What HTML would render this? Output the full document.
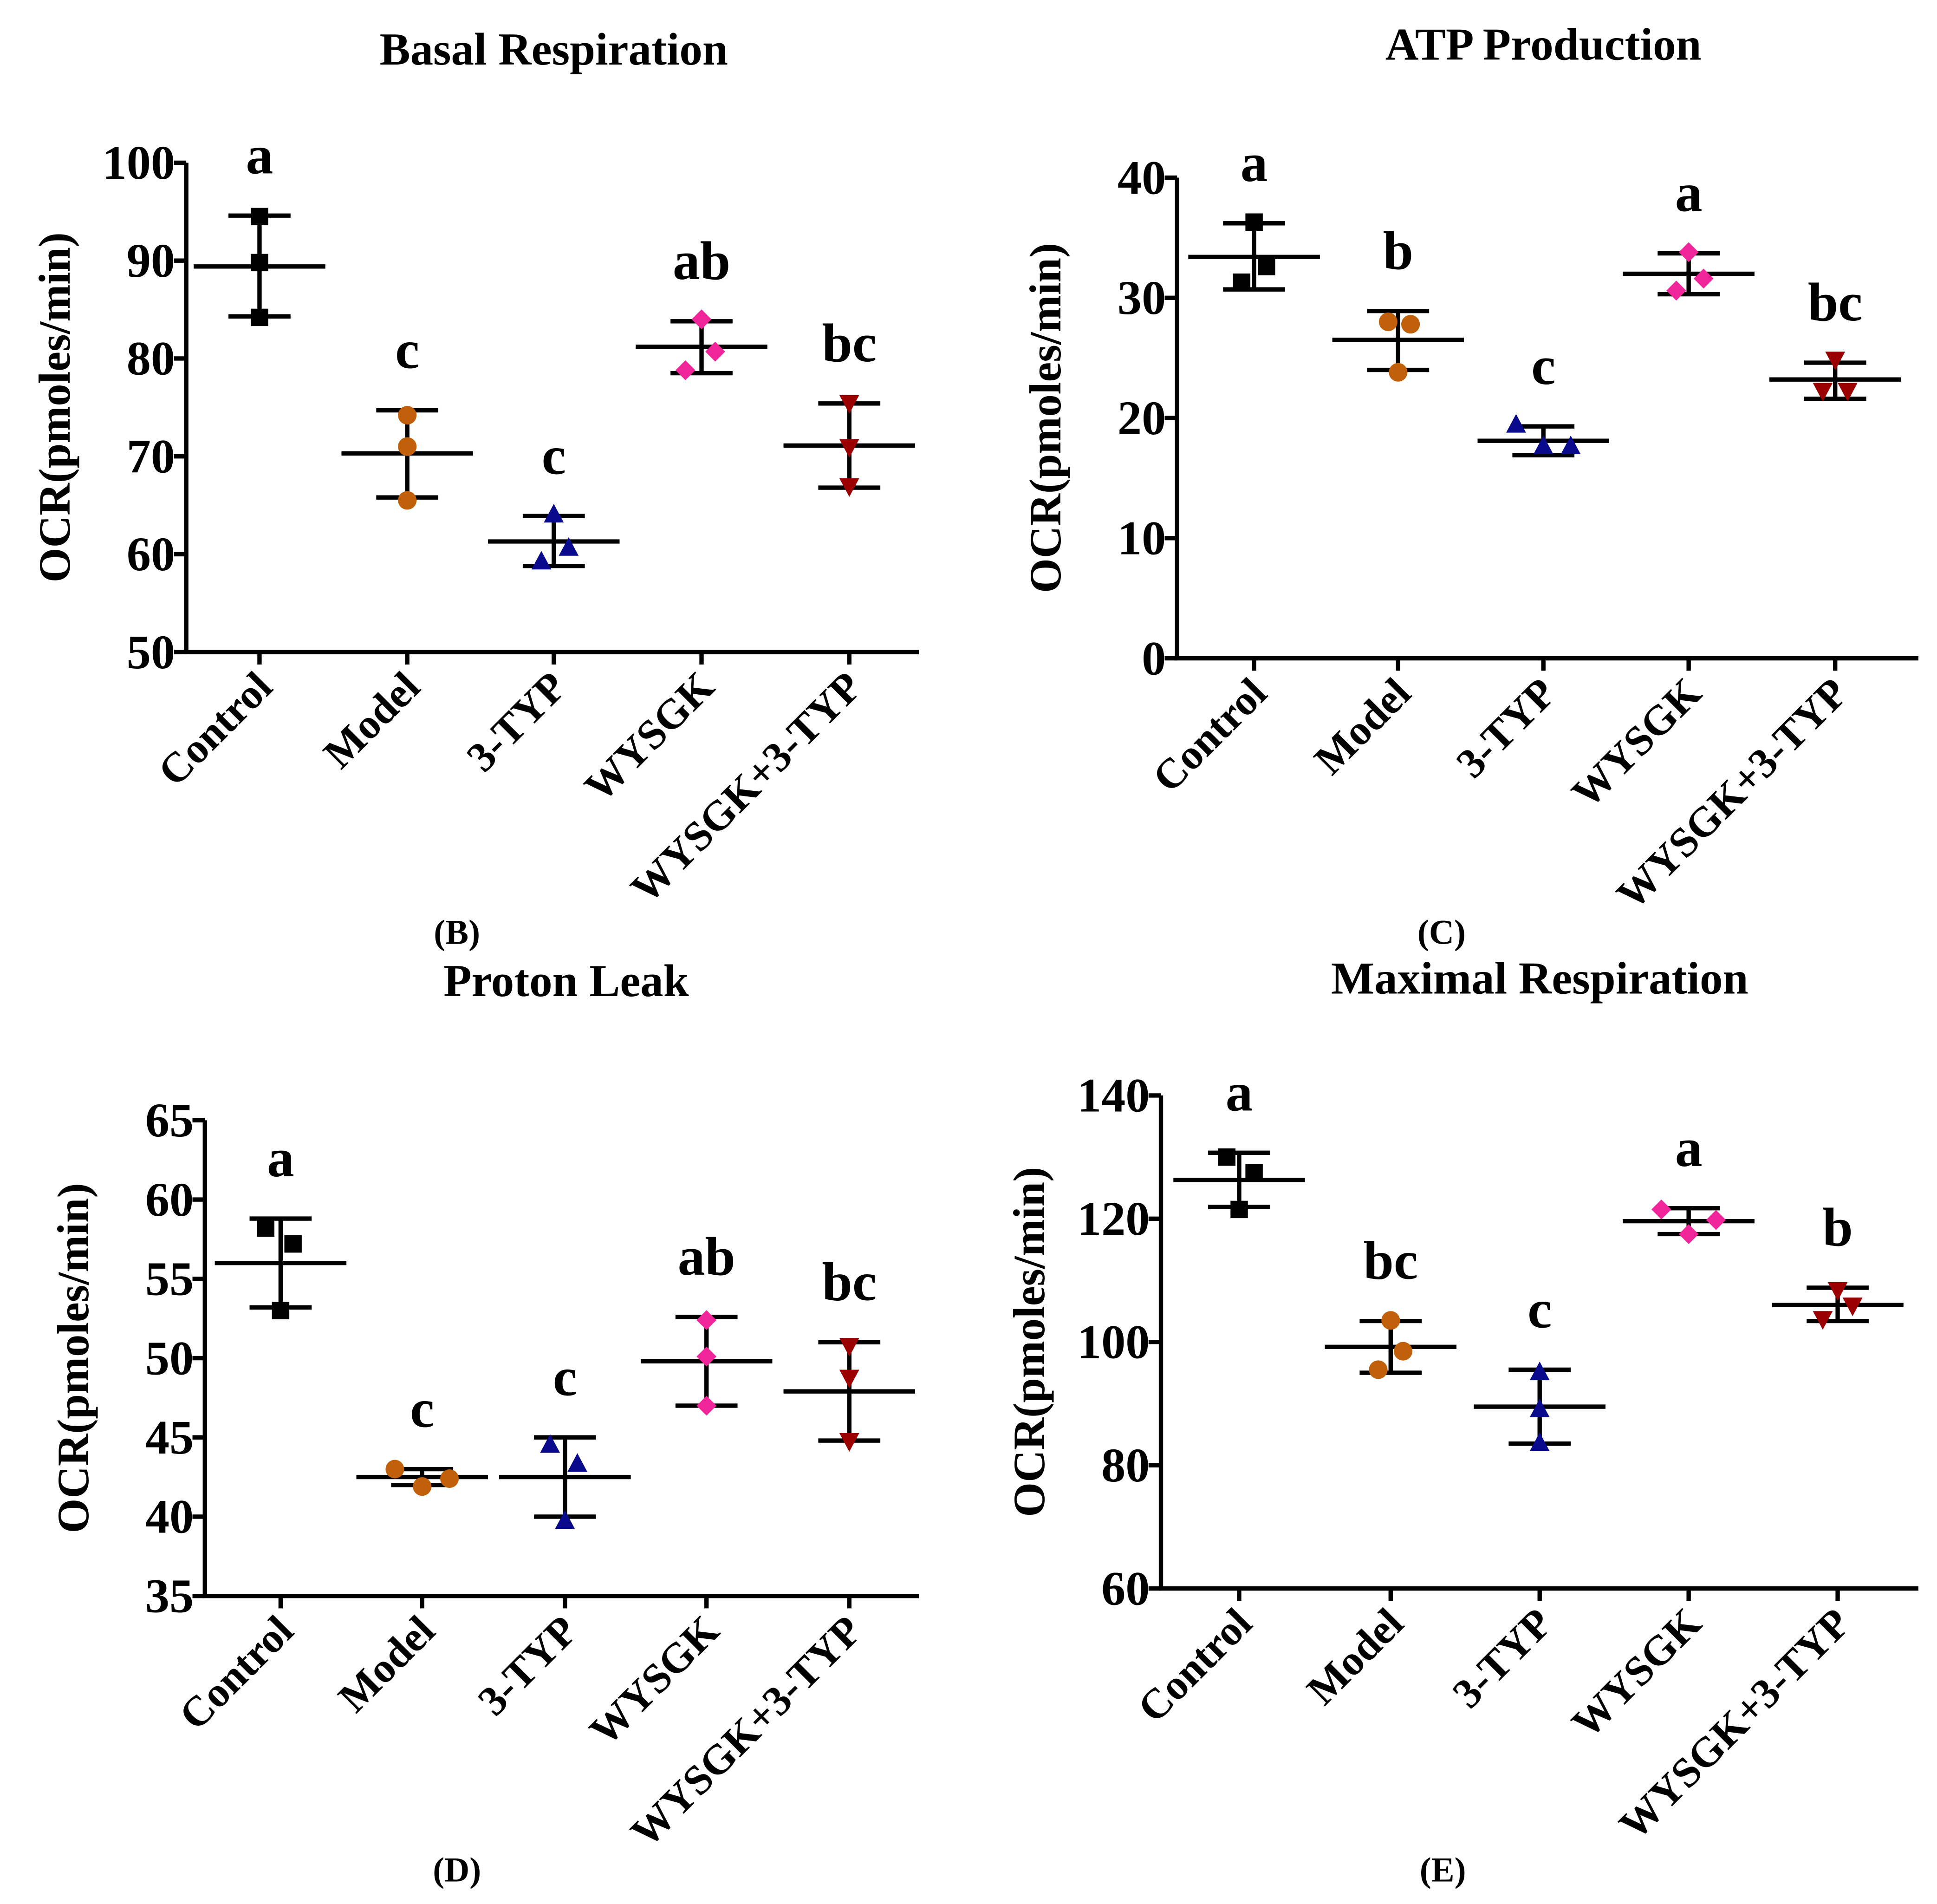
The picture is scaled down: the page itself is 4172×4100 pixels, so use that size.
<!DOCTYPE html>
<html><head><meta charset="utf-8"><style>
html,body{margin:0;padding:0;background:#fff}
svg{display:block}
text{font-family:"Liberation Serif","Times New Roman",serif;font-weight:bold;fill:#000}
</style></head><body>
<svg id="fig" width="4172" height="4100" viewBox="0 0 1560 1533" xmlns="http://www.w3.org/2000/svg"></svg>
<script>
const groups = ["Control","Model","3-TYP","WYSGK","WYSGK+3-TYP"];
const colors = ["#000000","#c0600a","#0a0a8c","#f0259a","#9a0000"];
const shapes = ["square","circle","up","diamond","down"];

const basalPts = [[94.5,89.8,84.2],[74.2,71,65.5],[64,60.6,59.2],[84,80.7,78.8],[75.5,71,67]];
const basalMean = [89.4,70.3,61.3,81.2,71.1];
const basalHi = [94.6,74.7,63.9,83.8,75.4];
const basalLo = [84.3,65.8,58.8,78.5,66.8];
const basalLetters = ["a","c","c","ab","bc"];
const basalTicks = [50,60,70,80,90,100];

const atpPts = [[36.3,32.6,31.3],[28,27.8,23.8],[19.4,17.6,17.6],[33.8,31.6,30.6],[24.9,22.3,22.3]];
const atpMean = [33.4,26.5,18.1,32,23.2];
const atpHi = [36.2,28.9,19.3,33.7,24.6];
const atpLo = [30.7,24,16.9,30.3,21.6];
const atpLetters = ["a","b","c","a","bc"];
const atpTicks = [0,10,20,30,40];

const leakPts = [[58.2,57.2,53],[43,41.9,42.4],[44.5,43.3,39.7],[52.4,50.1,47],[50.8,48.8,44.8]];
const leakMean = [56,42.5,42.5,49.8,47.9];
const leakHi = [58.8,43,45,52.6,51];
const leakLo = [53.2,42,40,47,44.8];
const leakLetters = ["a","c","c","ab","bc"];
const leakTicks = [35,40,45,50,55,60,65];

const maxPts = [[130,127.5,121.5],[103.5,98.5,95.5],[95,89,83.5],[121.5,117.5,119.8],[108.5,103.8,106]];
const maxMean = [126.3,99.2,89.5,119.6,106];
const maxHi = [130.7,103.4,95.5,121.7,108.8];
const maxLo = [121.9,95,83.5,117.5,103.4];
const maxLetters = ["a","bc","c","a","b"];
const maxTicks = [60,80,100,120,140];

const NS="http://www.w3.org/2000/svg";
const svg=document.getElementById('fig');
function mk(tag,attrs,parent){const e=document.createElementNS(NS,tag);for(const k in attrs)e.setAttribute(k,attrs[k]);(parent||svg).appendChild(e);return e;}

const panels=[
 {id:"basal",title:"Basal Respiration",tx:446,ty:52,lab:"(B)",lx:368,ly:760,ax:150,x1:740,yTop:131,yBot:525,min:50,max:100,cats:[209,328,446,565,684],pts:basalPts,mean:basalMean,hi:basalHi,lo:basalLo,let:basalLetters,ticks:basalTicks,
  jit:[[0,0,0],[0,0,0],[0,12,-10],[0,11,-13],[0,0,0]]},
 {id:"atp",title:"ATP Production",tx:1243,ty:48,lab:"(C)",lx:1161,ly:760,ax:948,x1:1545,yTop:143,yBot:530,min:0,max:40,cats:[1010,1126,1243,1360,1478],pts:atpPts,mean:atpMean,hi:atpHi,lo:atpLo,let:atpLetters,ticks:atpTicks,
  jit:[[0,10,-10],[-8,10,0],[-22,0,22],[0,12,-10],[0,-10,10]]},
 {id:"leak",title:"Proton Leak",tx:456,ty:802,lab:"(D)",lx:368,ly:1515,ax:165,x1:740,yTop:902,yBot:1285,min:35,max:65,cats:[226,340,455,569,684],pts:leakPts,mean:leakMean,hi:leakHi,lo:leakLo,let:leakLetters,ticks:leakTicks,
  jit:[[-12,10,0],[-22,0,22],[-12,10,0],[0,0,0],[0,0,0]]},
 {id:"maximal",title:"Maximal Respiration",tx:1240,ty:800,lab:"(E)",lx:1162,ly:1515,ax:935,x1:1545,yTop:882,yBot:1279,min:60,max:140,cats:[998,1120,1240,1360,1480],pts:maxPts,mean:maxMean,hi:maxHi,lo:maxLo,let:maxLetters,ticks:maxTicks,
  jit:[[-10,12,0],[0,10,-10],[0,0,0],[-22,0,22],[0,-12,12]]}
];

function marker(g,shape,x,y,c){
 let e;
 if(shape==="square") e=mk('rect',{x:x-7,y:y-7,width:14,height:14,fill:c},g);
 else if(shape==="circle") e=mk('circle',{cx:x,cy:y,r:7.5,fill:c},g);
 else if(shape==="up") e=mk('polygon',{points:`${x},${y-9} ${x+8},${y+6} ${x-8},${y+6}`,fill:c},g);
 else if(shape==="down") e=mk('polygon',{points:`${x},${y+9} ${x+8},${y-6} ${x-8},${y-6}`,fill:c},g);
 else e=mk('polygon',{points:`${x},${y-8} ${x+8},${y} ${x},${y+8} ${x-8},${y}`,fill:c},g);
 return e;
}

panels.forEach(p=>{
 const g=mk('g',{});
 
 
 const Y=v=>p.yBot-(v-p.min)/(p.max-p.min)*(p.yBot-p.yTop);
 let t=mk('text',{x:p.tx,y:p.ty,'text-anchor':'middle','font-size':37},g);t.textContent=p.title;
 
 
 t=mk('text',{x:p.lx,y:p.ly,'text-anchor':'middle','font-size':28},g);t.textContent=p.lab;
 
 
 const midY=(p.yTop+p.yBot)/2;
 t=mk('text',{x:0,y:0,'text-anchor':'middle','font-size':36,transform:`translate(${p.ax-94},${midY}) rotate(-90)`},g);t.textContent="OCR(pmoles/min)";
 
 
 let a=mk('path',{d:`M${p.ax},${p.yTop} V${p.yBot} H${p.x1}`,stroke:'#000','stroke-width':3.5,fill:'none'},g);
 
 
 p.ticks.forEach(v=>{
  const y=Y(v);
  mk('line',{x1:p.ax-10,x2:p.ax,y1:y,y2:y,stroke:'#000','stroke-width':3.5},g);
  const tt=mk('text',{x:p.ax-9,y:y+13,'text-anchor':'end','font-size':39},g);tt.textContent=v;
  
  
 });
 groups.forEach((name,i)=>{
  const cx=p.cats[i];
  mk('line',{x1:cx,x2:cx,y1:p.yBot,y2:p.yBot+10,stroke:'#000','stroke-width':3.5},g);
  const xl=mk('text',{x:0,y:0,'text-anchor':'end','font-size':34,transform:`translate(${cx+12},${p.yBot+30}) rotate(-45)`},g);xl.textContent=name;
  
  
  const sg=mk('g',{},g);
  
  
  const yh=Y(p.hi[i]),yl=Y(p.lo[i]),ym=Y(p.mean[i]);
  mk('line',{x1:cx,x2:cx,y1:yh,y2:yl,stroke:'#000','stroke-width':3.5},sg);
  mk('line',{x1:cx-25,x2:cx+25,y1:yh,y2:yh,stroke:'#000','stroke-width':3.5},sg);
  mk('line',{x1:cx-25,x2:cx+25,y1:yl,y2:yl,stroke:'#000','stroke-width':3.5},sg);
  mk('line',{x1:cx-53,x2:cx+53,y1:ym,y2:ym,stroke:'#000','stroke-width':3.5},sg);
  p.pts[i].forEach((v,k)=>{
   const m=marker(sg,shapes[i],cx+p.jit[i][k],Y(v),colors[i]);
   
   
  });
  const lt=mk('text',{x:cx,y:yh-34,'text-anchor':'middle','font-size':44},g);lt.textContent=p.let[i];
  
  
 });
});
</script>
</body></html>
